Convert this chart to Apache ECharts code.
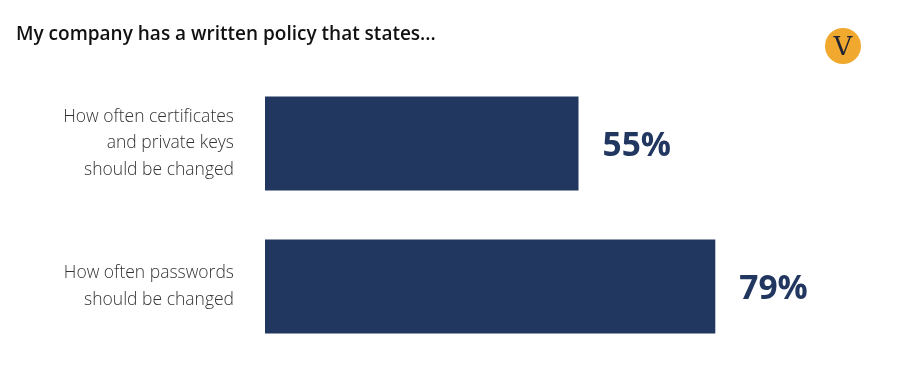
<!DOCTYPE html>
<html>
<head>
<meta charset="utf-8">
<script src="https://cdn.jsdelivr.net/npm/echarts@6/dist/echarts.min.js"></script>
<style>
html,body{margin:0;padding:0;background:#fff;}
#c{width:899px;height:381px;}
</style>
</head>
<body>
<div id="c"></div>
<script>
const categories = ["How often certificates\nand private keys\nshould be changed", "How often passwords\nshould be changed"];
const values = [55, 79];
const titleText = "My company has a written policy that states...";

const chart = echarts.init(document.getElementById('c'), null, {renderer: 'canvas'});
chart.setOption({
  backgroundColor: '#ffffff',
  animation: false,
  title: {
    text: titleText,
    left: 11, top: 20,
    textStyle: {fontFamily: 'Open Sans', fontSize: 19, fontWeight: 600, color: '#111111'}
  },
  graphic: [
    {type: 'circle', shape: {cx: 843, cy: 46, r: 18}, style: {fill: '#f0a92e'}},
    {type: 'text', style: {x: 843, y: 48, text: 'V', align: 'center', verticalAlign: 'middle',
      font: '26px "DejaVu Serif", serif', fill: '#1e2233'}}
  ],
  grid: {left: 265, right: 64, top: 72, bottom: 23},
  xAxis: {type: 'value', min: 0, max: 100, show: false},
  yAxis: {
    type: 'category', data: categories, inverse: true,
    axisLine: {show: false}, axisTick: {show: false},
    axisLabel: {
      margin: 31, align: 'right',
      fontFamily: 'Open Sans', fontSize: 17.5, fontWeight: 300, color: '#333333', lineHeight: 26.5
    }
  },
  series: [{
    type: 'bar', data: values, barWidth: 94,
    itemStyle: {color: '#223760'},
    label: {
      show: true, position: 'right', distance: 24, offset: [0, 3],
      formatter: '{c}%',
      fontFamily: 'Open Sans', fontSize: 33.5, fontWeight: 700, color: '#223760'
    }
  }]
});
</script>
</body>
</html>
